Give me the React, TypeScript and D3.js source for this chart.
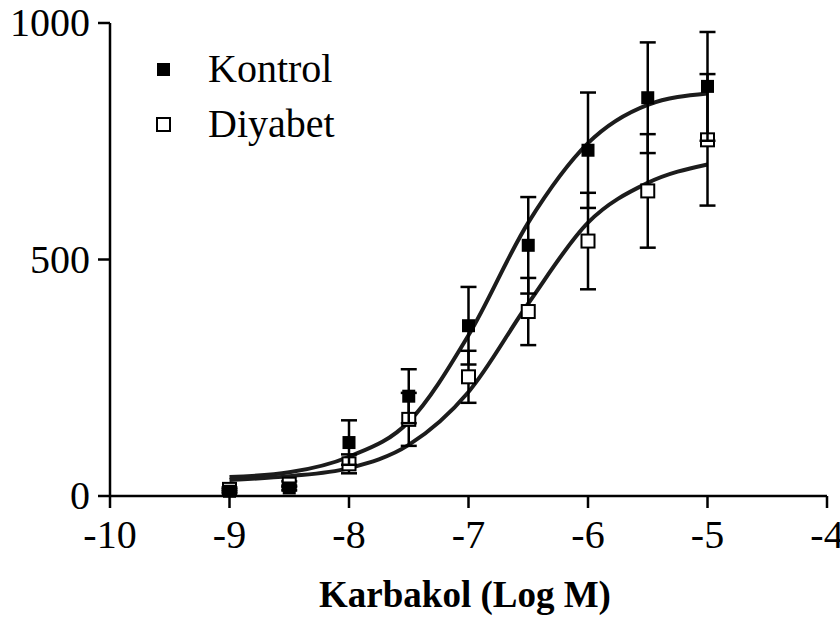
import React from "react";
import * as d3 from "d3";

const logDose = [-9, -8.5, -8, -7.5, -7, -6.5, -6, -5.5, -5];
const kontrolMean = [10, 17, 113, 211, 360, 530, 731, 842, 866];
const kontrolSem = [4, 5, 47, 57, 82, 102, 122, 117, 115];
const diyabetMean = [14, 25, 68, 162, 252, 390, 539, 645, 753];
const diyabetSem = [4, 6, 20, 56, 55, 71, 102, 120, 139];

// fitted curves at each half-log step
const kontrolFit = [40, 50, 83, 157, 340, 578, 746, 827, 851];
const diyabetFit = [34, 42, 59, 108, 220, 407, 578, 662, 701];

const xTicks = [-10, -9, -8, -7, -6, -5, -4];
const yTicks = [0, 500, 1000];
const seriesNames = ["Kontrol", "Diyabet"];

const W = 840;
const H = 623;
const txt = { fontFamily: "Liberation Serif" };

export default function App() {
  const x = d3.scaleLinear().domain([-10, -4]).range([110, 827]);
  const y = d3.scaleLinear().domain([0, 1000]).range([496, 23]);

  const line = d3
    .line<number>()
    .x((_, i) => x(logDose[i]))
    .y((d) => y(d))
    .curve(d3.curveMonotoneX);

  const series = [
    { name: seriesNames[0], mean: kontrolMean, sem: kontrolSem, fit: kontrolFit, filled: true },
    { name: seriesNames[1], mean: diyabetMean, sem: diyabetSem, fit: diyabetFit, filled: false },
  ];
  // Diyabet underneath, Kontrol on top
  const drawOrder = [series[1], series[0]];
  const m = 13; // marker size
  const cap = 8;

  return (
    <svg width={W} height={H} style={{ position: "absolute", left: 0, top: 0, background: "#fff" }}>
      {/* curves */}
      {series.map((s) => (
        <path key={s.name + "fit"} d={line(s.fit) || ""} fill="none" stroke="#1c1c1c" strokeWidth={4} />
      ))}

      {drawOrder.map((s) => (
        <g key={s.name + "pts"}>
          {s.mean.map((v, i) => {
            const cx = x(logDose[i]);
            const hi = y(v + s.sem[i]);
            const lo = y(Math.max(0, v - s.sem[i]));
            return (
              <g key={"e" + i} stroke="#000" strokeWidth={2.5}>
                <line x1={cx} x2={cx} y1={hi} y2={lo} />
                <line x1={cx - cap} x2={cx + cap} y1={hi} y2={hi} />
                <line x1={cx - cap} x2={cx + cap} y1={lo} y2={lo} />
              </g>
            );
          })}
          {s.mean.map((v, i) => (
            <rect
              key={"m" + i}
              x={x(logDose[i]) - m / 2}
              y={y(v) - m / 2}
              width={m}
              height={m}
              fill={s.filled ? "#000" : "#fff"}
              stroke="#000"
              strokeWidth={s.filled ? 0 : 2}
            />
          ))}
        </g>
      ))}

      {/* axes */}
      <g stroke="#000" strokeWidth={2.5}>
        <line x1={x(-10)} x2={x(-4)} y1={y(0)} y2={y(0)} />
        <line x1={x(-10)} x2={x(-10)} y1={y(0)} y2={y(1000)} />
        {xTicks.map((t) => (
          <line key={"xt" + t} x1={x(t)} x2={x(t)} y1={y(0)} y2={y(0) + 12} />
        ))}
        {yTicks.map((t) => (
          <line key={"yt" + t} x1={x(-10) - 12} x2={x(-10)} y1={y(t)} y2={y(t)} />
        ))}
      </g>
      {xTicks.map((t) => (
        <text key={"xl" + t} x={x(t)} y={548} fontSize={40} textAnchor="middle" style={txt}>
          {String(t)}
        </text>
      ))}
      {yTicks.map((t) => (
        <text key={"yl" + t} x={90} y={y(t) + 13} fontSize={40} textAnchor="end" style={txt}>
          {String(t)}
        </text>
      ))}
      <text x={465} y={607} fontSize={37} fontWeight="bold" textAnchor="middle" style={txt}>
        Karbakol (Log M)
      </text>

      {/* legend */}
      {series.map((s, i) => (
        <g key={s.name + "leg"}>
          <rect
            x={157}
            y={63 + i * 55}
            width={m}
            height={m}
            fill={s.filled ? "#000" : "#fff"}
            stroke="#000"
            strokeWidth={s.filled ? 0 : 2}
          />
          <text x={208} y={82 + i * 55} fontSize={40} style={txt}>
            {s.name}
          </text>
        </g>
      ))}
    </svg>
  );
}
